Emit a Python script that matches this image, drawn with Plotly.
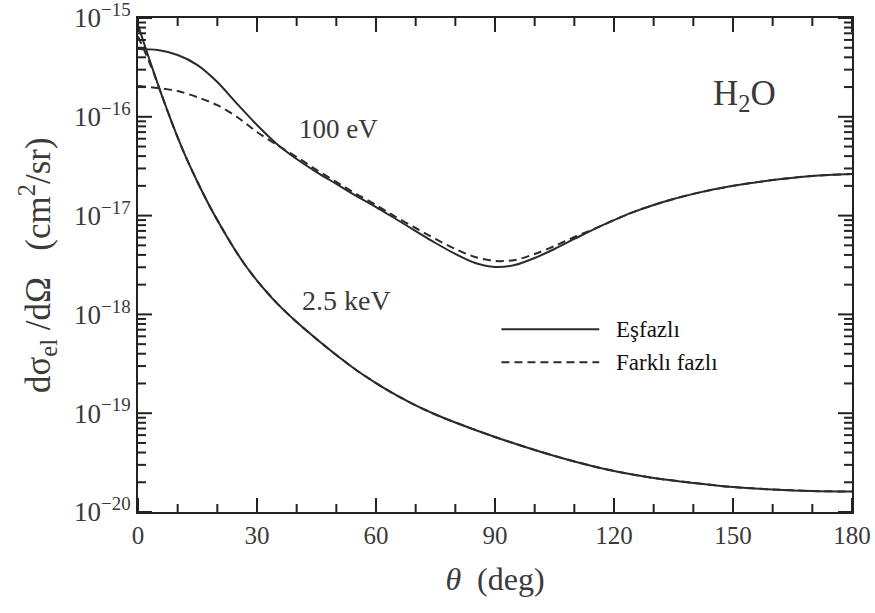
import plotly.graph_objects as go

# 100 eV elastic DCS of H2O, cm^2/sr
theta_100 = [0, 5, 10, 15, 20, 25, 30, 35, 40, 45, 50, 55, 60, 65, 70, 75, 80, 85,
             90, 95, 100, 105, 110, 115, 120, 125, 130, 135, 140, 150, 160, 170, 180]
dcs_100_in = [4.85e-16, 4.74e-16, 4.22e-16, 3.34e-16, 2.25e-16, 1.35e-16, 8.26e-17, 5.31e-17,
              3.74e-17, 2.76e-17, 2.09e-17, 1.58e-17, 1.22e-17, 9.24e-18, 6.98e-18, 5.28e-18,
              4.09e-18, 3.31e-18, 3.02e-18, 3.16e-18, 3.72e-18, 4.59e-18, 5.80e-18, 7.31e-18,
              9.01e-18, 1.09e-17, 1.28e-17, 1.47e-17, 1.66e-17, 2.00e-17, 2.29e-17,
              2.52e-17, 2.64e-17]
dcs_100_out = [2.05e-16, 1.96e-16, 1.82e-16, 1.58e-16, 1.31e-16, 9.95e-17, 7.02e-17, 5.19e-17,
               3.92e-17, 2.90e-17, 2.19e-17, 1.66e-17, 1.28e-17, 9.68e-18, 7.49e-18, 5.80e-18,
               4.59e-18, 3.81e-18, 3.47e-18, 3.55e-18, 4.09e-18, 4.92e-18, 6.07e-18, 7.31e-18,
               9.01e-18, 1.09e-17, 1.28e-17, 1.47e-17, 1.66e-17, 2.00e-17, 2.29e-17,
               2.52e-17, 2.64e-17]

# 2.5 keV elastic DCS of H2O, cm^2/sr
theta_2k5 = [0, 2, 4, 6, 8, 10, 12, 15, 18, 21, 24, 27, 30, 35, 40, 45, 50, 55, 60, 65, 70,
             75, 80, 90, 100, 110, 120, 130, 140, 150, 160, 170, 180]
dcs_2k5_in = [8.5e-16, 4.85e-16, 2.80e-16, 1.65e-16, 9.96e-17, 6.19e-17, 3.97e-17, 2.19e-17,
              1.26e-17, 7.67e-18, 4.81e-18, 3.16e-18, 2.20e-18, 1.30e-18, 8.37e-19, 5.64e-19,
              3.88e-19, 2.74e-19, 2.02e-19, 1.53e-19, 1.20e-19, 9.70e-20, 8.05e-20, 5.74e-20,
              4.25e-20, 3.25e-20, 2.60e-20, 2.21e-20, 1.97e-20, 1.79e-20, 1.69e-20,
              1.63e-20, 1.61e-20]
dcs_2k5_out = [6.5e-16, 4.3e-16, 2.75e-16, 1.65e-16, 9.96e-17, 6.19e-17, 3.97e-17, 2.19e-17,
               1.26e-17, 7.67e-18, 4.81e-18, 3.16e-18, 2.20e-18, 1.30e-18, 8.37e-19, 5.64e-19,
               3.88e-19, 2.74e-19, 2.02e-19, 1.53e-19, 1.20e-19, 9.70e-20, 8.05e-20, 5.74e-20,
               4.25e-20, 3.25e-20, 2.60e-20, 2.21e-20, 1.97e-20, 1.79e-20, 1.69e-20,
               1.63e-20, 1.61e-20]

x_ticks = [0, 30, 60, 90, 120, 150, 180]
x_minor = [10, 20, 40, 50, 70, 80, 100, 110, 130, 140, 160, 170]
y_exps = [-20, -19, -18, -17, -16, -15]

LINE = "#2b2b2b"
TXT = "#3a3a3a"
AX = "#222222"
SERIF = "Liberation Serif, DejaVu Serif, serif"
DASH = "8px,5px"

W, H = 875, 613
M = dict(l=138, r=23, t=18, b=101)
PW, PH = W - M["l"] - M["r"], H - M["t"] - M["b"]
X_RANGE = [0, 180]
Y_RANGE = [-20, -15]          # log10 decades

fig = go.Figure()
for th, vals, dash in [(theta_100, dcs_100_in, "solid"), (theta_100, dcs_100_out, DASH),
                       (theta_2k5, dcs_2k5_in, "solid"), (theta_2k5, dcs_2k5_out, DASH)]:
    fig.add_trace(go.Scatter(x=th, y=vals, mode="lines", showlegend=False, hoverinfo="skip",
                             line=dict(color=LINE, width=2, dash=dash, shape="spline",
                                       smoothing=0.8)))

y_major = [10.0 ** e for e in y_exps]
y_minor = [k * 10.0 ** e for e in y_exps[:-1] for k in range(2, 10)]

# inward tick marks on all four sides, built on the axis scales as one line trace
x_per_px = (X_RANGE[1] - X_RANGE[0]) / PW
dec_per_px = (Y_RANGE[1] - Y_RANGE[0]) / PH
tx, ty = [], []
for vals, length in [(x_ticks, 14), (x_minor, 8)]:
    f = 10.0 ** (length * dec_per_px)
    lo, hi = 10.0 ** Y_RANGE[0], 10.0 ** Y_RANGE[1]
    for xv in vals:
        tx += [xv, xv, None, xv, xv, None]
        ty += [lo, lo * f, None, hi, hi / f, None]
for vals, length in [(y_major, 14), (y_minor, 8)]:
    d = length * x_per_px
    for yv in vals:
        tx += [X_RANGE[0], X_RANGE[0] + d, None, X_RANGE[1], X_RANGE[1] - d, None]
        ty += [yv, yv, None, yv, yv, None]
fig.add_trace(go.Scatter(x=tx, y=ty, mode="lines", showlegend=False, hoverinfo="skip",
                         cliponaxis=False, line=dict(color=AX, width=2)))

fig.update_layout(
    template="none",
    width=W, height=H, margin=M,
    plot_bgcolor="white", paper_bgcolor="white",
    xaxis=dict(range=X_RANGE, tickmode="array", tickvals=x_ticks,
               ticktext=[str(v) for v in x_ticks], ticks="",
               showline=True, linecolor=AX, linewidth=2, mirror=True,
               showgrid=False, zeroline=False, ticklabeloverflow="allow",
               tickfont=dict(family=SERIF, size=25, color=TXT),
               title=dict(text="<i>θ</i>  (deg)", font=dict(family=SERIF, size=32, color=TXT),
                          standoff=20)),
    yaxis=dict(type="log", range=Y_RANGE, tickmode="array", tickvals=y_major,
               ticktext=["10<sup>−%d</sup>" % (-e) for e in y_exps], ticks="",
               showline=True, linecolor=AX, linewidth=2, mirror=True,
               showgrid=False, zeroline=False, ticklabeloverflow="allow",
               tickfont=dict(family=SERIF, size=27, color=TXT)),
)

# y-axis title
fig.add_annotation(xref="paper", yref="paper", x=-(M["l"] - 37) / PW, y=0.50,
                   xanchor="center", yanchor="middle",
                   text="dσ<sub>el</sub> /dΩ   (cm<sup>2</sup>/sr)", textangle=-90,
                   showarrow=False, font=dict(family=SERIF, size=35, color=TXT))

# curve labels
fig.add_annotation(x=50.5, y=-16.12, xref="x", yref="y", text="100 eV", showarrow=False,
                   font=dict(family=SERIF, size=27, color=TXT))
fig.add_annotation(x=52.5, y=-17.86, xref="x", yref="y", text="2.5 keV", showarrow=False,
                   font=dict(family=SERIF, size=28, color=TXT))
fig.add_annotation(x=153, y=-15.78, xref="x", yref="y", text="H<sub>2</sub>O", showarrow=False,
                   font=dict(family=SERIF, size=35, color=TXT))

# legend key
for yk, dash, label in [(0.370, "solid", "Eşfazlı"), (0.303, DASH, "Farklı fazlı")]:
    fig.add_shape(type="line", xref="paper", yref="paper", x0=0.509, x1=0.646, y0=yk, y1=yk,
                  line=dict(color=LINE, width=2, dash=dash))
    fig.add_annotation(xref="paper", yref="paper", x=0.667, y=yk, xanchor="left",
                       yanchor="middle", text=label, showarrow=False,
                       font=dict(family=SERIF, size=23, color="#111"))

fig.write_html("out.html")
